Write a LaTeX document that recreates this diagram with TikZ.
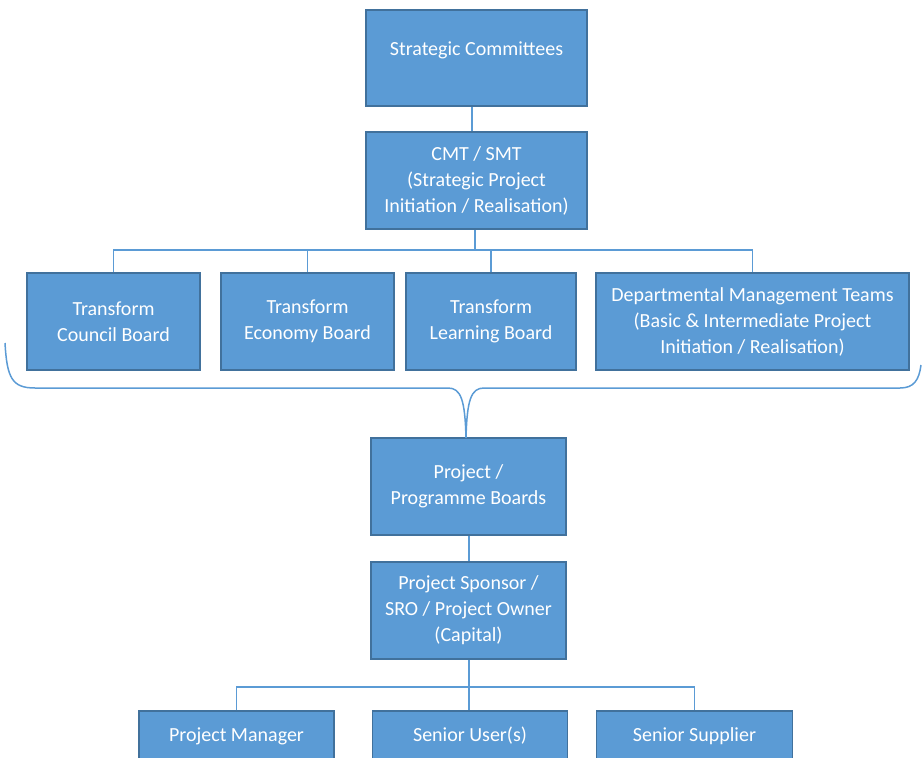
\documentclass[tikz,border=0pt]{standalone}
\usepackage{fontspec}
\setmainfont{Carlito}
\definecolor{boxfill}{HTML}{5B9BD5}
\definecolor{boxline}{HTML}{41719C}
\definecolor{conn}{HTML}{5B9BD5}
\begin{document}
\begin{tikzpicture}[x=1pt,y=-1pt,
  orgbox/.style={draw=boxline,line width=1.5pt,fill=boxfill,text=white,
    align=center,inner sep=0pt,font=\fontsize{20}{26}\selectfont},
  orgtext/.style={text=white,align=center,inner sep=0pt,font=\fontsize{20}{26}\selectfont},
  link/.style={draw=conn,line width=1.5pt}]
\useasboundingbox (0,0) rectangle (922,758);
\clip (0,0) rectangle (922,758);
% top
\node[orgbox,minimum width=221pt,minimum height=96pt] (sc) at (476.5,58) {};
\node[orgtext] (sctext) at (476.5,50) {Strategic Committees};
\node[orgbox,minimum width=221pt,minimum height=97pt] (cmt) at (476.5,180.5) {CMT / SMT\\(Strategic Project\\Initiation / Realisation)};
% row
\node[orgbox,minimum width=173pt,minimum height=97pt] (council) at (113.5,321.5) {Transform\\Council Board};
\node[orgbox,minimum width=173pt,minimum height=97pt] (economy) at (307.5,321.5) {Transform\\Economy Board};
\node[orgbox,minimum width=170pt,minimum height=97pt] (learning) at (491,321.5) {Transform\\Learning Board};
\node[orgbox,minimum width=313pt,minimum height=97pt] (dept) at (752.5,321.5) {Departmental Management Teams\\(Basic \& Intermediate Project\\Initiation / Realisation)};
% lower
\node[orgbox,minimum width=195pt,minimum height=97pt] (pb) at (468.5,486.5) {Project /\\Programme Boards};
\node[orgbox,minimum width=195pt,minimum height=97pt] (sponsor) at (468.5,610.5) {Project Sponsor /\\SRO / Project Owner\\(Capital)};
% bottom
\node[orgbox,minimum width=195pt,minimum height=50pt] (pm) at (236.5,736) {Project Manager};
\node[orgbox,minimum width=195pt,minimum height=50pt] (su) at (470,736) {Senior User(s)};
\node[orgbox,minimum width=196pt,minimum height=50pt] (ss) at (694.5,736) {Senior Supplier};
% coordinates
\coordinate (bus) at (475,250);
\coordinate (bus2) at (469,687);
\coordinate (bl) at (5,343);
\coordinate (br) at (921,365);
\coordinate (tip) at (466,438);
% connectors
\draw[link] (sc.south -| 472,0) -- (cmt.north -| 472,0);
\draw[link] (cmt.south -| bus) -- (bus);
\draw[link] (council.north) |- (bus) -| (dept.north);
\draw[link] (economy.north) -- (economy.north |- bus);
\draw[link] (learning.north) -- (learning.north |- bus);
% brace
\draw[link] (bl) .. controls (7,378) and (12,388) .. (35,388) -- (448,388)
  .. controls (461,388) and (465,400) .. (tip)
  .. controls (467,400) and (471,388) .. (484,388) -- (900,388)
  .. controls (914,388) and (919,380) .. (br);
\draw[link] (tip) -- (pb.north -| tip);
\draw[link] (pb.south -| bus2) -- (sponsor.north -| bus2);
\draw[link] (sponsor.south -| bus2) -- (bus2);
\draw[link] (pm.north) |- (bus2) -| (ss.north);
\draw[link] (bus2) -- (su.north -| bus2);
\end{tikzpicture}
\end{document}
